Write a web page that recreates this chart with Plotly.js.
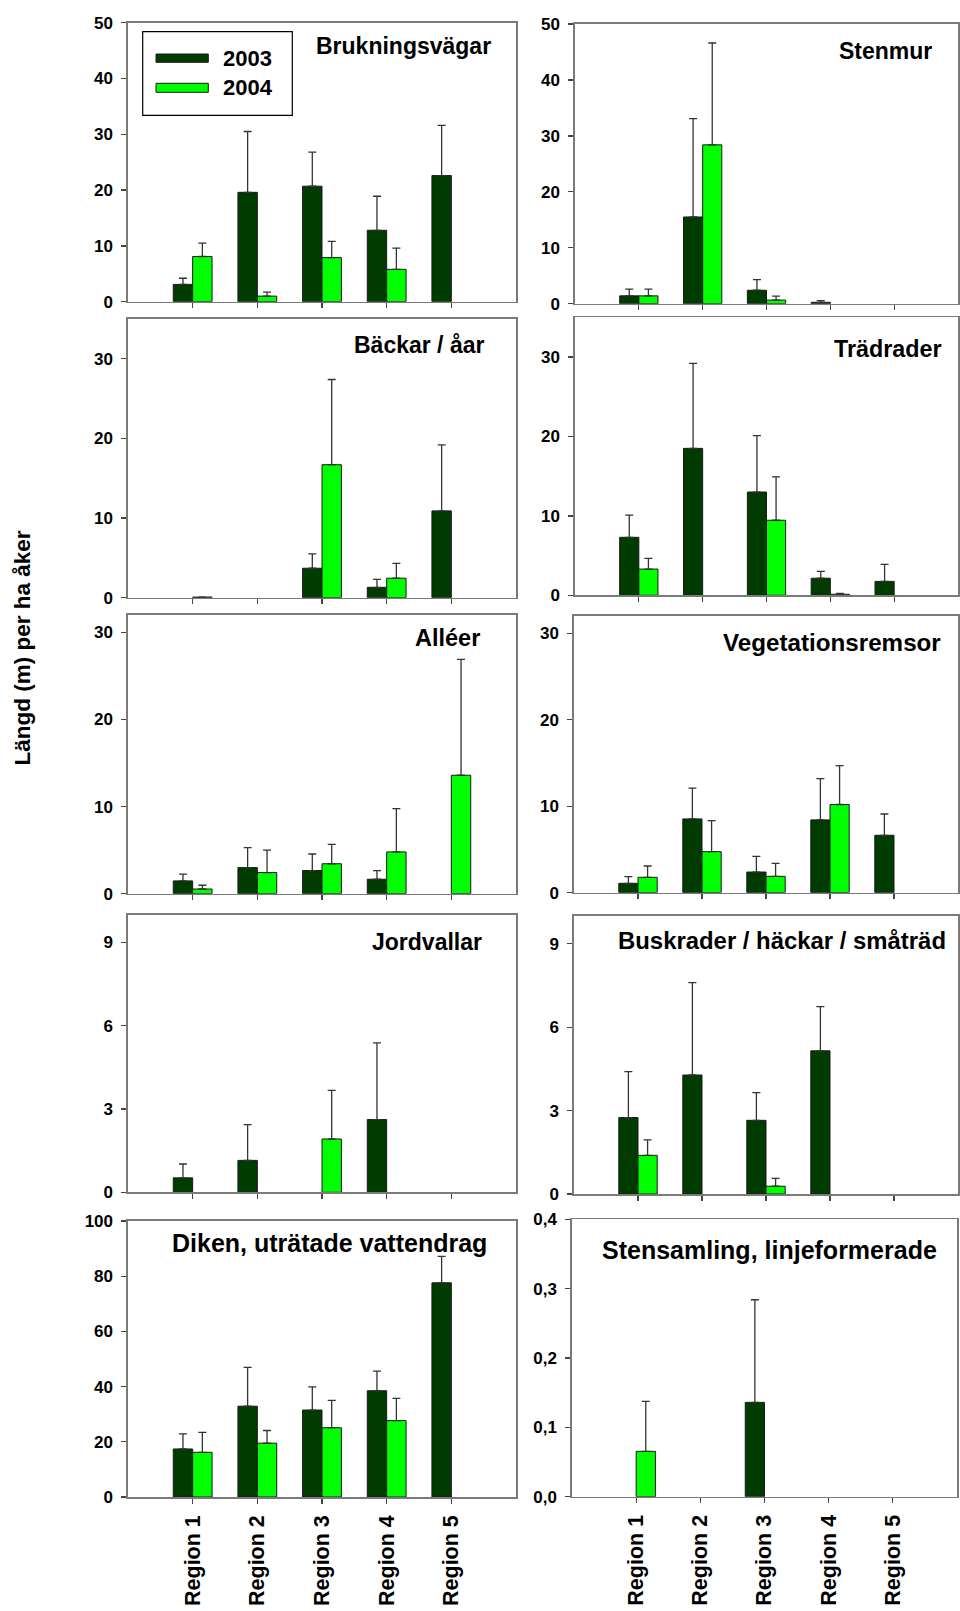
<!DOCTYPE html>
<html><head><meta charset="utf-8">
<script src="https://cdn.plot.ly/plotly-3.0.1.min.js"></script>
<style>html,body{margin:0;padding:0;background:#fff}#chart{width:960px;height:1611px}</style>
</head><body><div id="chart"></div>
<script>
// ---------- DATA ----------
const regions = ['Region 1', 'Region 2', 'Region 3', 'Region 4', 'Region 5'];
const regionPos = [1, 2, 3, 4, 5];
const years = ['2003', '2004'];

const bruk2003 = [3.1, 19.6, 20.7, 12.8, 22.6];
const bruk2003err = [1.1, 10.9, 6.1, 6.1, 9.0];
const bruk2004 = [8.1, 1.0, 7.9, 5.8, null];
const bruk2004err = [2.4, 0.7, 2.9, 3.8, null];

const sten2003 = [1.4, 15.5, 2.4, 0.25, null];
const sten2003err = [1.2, 17.6, 1.9, 0.3, null];
const sten2004 = [1.4, 28.4, 0.65, null, null];
const sten2004err = [1.2, 18.2, 0.7, null, null];

const back2003 = [null, null, 3.7, 1.3, 10.9];
const back2003err = [null, null, 1.8, 1.0, 8.3];
const back2004 = [0.08, null, 16.7, 2.45, null];
const back2004err = [0, null, 10.7, 1.85, null];

const trad2003 = [7.3, 18.5, 13.0, 2.15, 1.75];
const trad2003err = [2.8, 10.7, 7.1, 0.85, 2.15];
const trad2004 = [3.3, null, 9.45, 0.13, null];
const trad2004err = [1.35, null, 5.45, 0.1, null];

const alle2003 = [1.47, 3.0, 2.66, 1.66, null];
const alle2003err = [0.77, 2.3, 1.9, 1.0, null];
const alle2004 = [0.54, 2.43, 3.44, 4.8, 13.6];
const alle2004err = [0.43, 2.57, 2.23, 4.97, 13.3];

const veg2003 = [1.08, 8.53, 2.39, 8.42, 6.64];
const veg2003err = [0.77, 3.57, 1.81, 4.78, 2.46];
const veg2004 = [1.78, 4.75, 1.89, 10.2, null];
const veg2004err = [1.31, 3.59, 1.51, 4.5, null];

const jord2003 = [0.52, 1.15, null, 2.62, null];
const jord2003err = [0.5, 1.29, null, 2.76, null];
const jord2004 = [null, null, 1.92, null, null];
const jord2004err = [null, null, 1.75, null, null];

const busk2003 = [2.75, 4.28, 2.65, 5.15, null];
const busk2003err = [1.65, 3.32, 1.0, 1.59, null];
const busk2004 = [1.39, null, 0.28, null, null];
const busk2004err = [0.56, null, 0.28, null, null];

const dike2003 = [17.4, 32.9, 31.5, 38.5, 77.6];
const dike2003err = [5.5, 14.1, 8.4, 7.1, 9.6];
const dike2004 = [16.2, 19.5, 25.1, 27.7, null];
const dike2004err = [7.2, 4.6, 9.9, 8.0, null];

const stsa2003 = [null, null, 0.136, null, null];
const stsa2003err = [null, null, 0.148, null, null];
const stsa2004 = [0.0654, null, null, null, null];
const stsa2004err = [0.072, null, null, null, null];

const ticks50 = [0, 10, 20, 30, 40, 50];
const ticks30 = [0, 10, 20, 30];
const ticks9 = [0, 3, 6, 9];
const ticks100 = [0, 20, 40, 60, 80, 100];
const ticks04 = [0, 0.1, 0.2, 0.3, 0.4];
const ticks04text = ['0,0', '0,1', '0,2', '0,3', '0,4'];

const yTitle = 'Längd (m) per ha åker';

// ---------- LAYOUT / DRAW ----------
const W = 960, H = 1611;
const FONT = 'Liberation Sans, Arial, Helvetica, sans-serif';
const DARK = '#003c00', LIGHT = '#00ff00';

const panels = [
  {t:'Brukningsvägar', a:bruk2003, ae:bruk2003err, b:bruk2004, be:bruk2004err, x0:128, x1:516, top:22.7, bot:301.7, ymax:50, tv:ticks50, tr:492.7, ty:46, fs:23},
  {t:'Bäckar / åar', a:back2003, ae:back2003err, b:back2004, be:back2004err, x0:128, x1:516, top:319, bot:597.7, ymax:35, tv:ticks30, tr:485.7, ty:345, fs:23},
  {t:'Alléer', a:alle2003, ae:alle2003err, b:alle2004, be:alle2004err, x0:128, x1:516, top:615, bot:893.7, ymax:32, tv:ticks30, tr:482.3, ty:638, fs:23.5},
  {t:'Jordvallar', a:jord2003, ae:jord2003err, b:jord2004, be:jord2004err, x0:128, x1:516, top:914.7, bot:1192.3, ymax:10, tv:ticks9, tr:484.3, ty:942, fs:23},
  {t:'Diken, uträtade vattendrag', a:dike2003, ae:dike2003err, b:dike2004, be:dike2004err, x0:128, x1:516, top:1221, bot:1497, ymax:100, tv:ticks100, tr:488.7, ty:1243, fs:25, bottom:true},
  {t:'Stenmur', a:sten2003, ae:sten2003err, b:sten2004, be:sten2004err, x0:575, x1:958, top:24, bot:303.7, ymax:50, tv:ticks50, tr:934.3, ty:51, fs:23},
  {t:'Trädrader', a:trad2003, ae:trad2003err, b:trad2004, be:trad2004err, x0:575, x1:958, top:317.3, bot:595.3, ymax:35, tv:ticks30, tr:943.3, ty:349.5, fs:23.3},
  {t:'Vegetationsremsor', a:veg2003, ae:veg2003err, b:veg2004, be:veg2004err, x0:574, x1:958, top:616, bot:892.7, ymax:32, tv:ticks30, tr:943.3, ty:642.5, fs:24.2},
  {t:'Buskrader / häckar / småträd', a:busk2003, ae:busk2003err, b:busk2004, be:busk2004err, x0:574, x1:958, top:916, bot:1194, ymax:10, tv:ticks9, tr:948.3, ty:940, fs:23.9},
  {t:'Stensamling, linjeformerade', a:stsa2003, ae:stsa2003err, b:stsa2004, be:stsa2004err, x0:572, x1:957, top:1219.3, bot:1496.7, ymax:0.4, tv:ticks04, tt:ticks04text, tr:939.3, ty:1249.5, fs:25, bottom:true}
];

const traces = [];
const layout = {
  width: W, height: H,
  margin: {l:0, r:0, t:0, b:0},
  paper_bgcolor: '#fff', plot_bgcolor: '#fff',
  barmode: 'group', bargap: 0.4, bargroupgap: 0,
  showlegend: false,
  font: {family: FONT, color: '#000'},
  annotations: [], shapes: []
};

function errObj(arr) {
  return {type:'data', symmetric:false, array: arr, arrayminus: arr.map(() => 0),
          color:'#333', thickness:1.3, width:4, visible:true};
}

panels.forEach((p, i) => {
  const s = i === 0 ? '' : String(i + 1);
  traces.push({type:'bar', name:years[0], x:regionPos, y:p.a, xaxis:'x'+s, yaxis:'y'+s,
    marker:{color:DARK, line:{color:'#1a1a1a', width:1}}, error_y:errObj(p.ae), hoverinfo:'y'});
  traces.push({type:'bar', name:years[1], x:regionPos, y:p.b, xaxis:'x'+s, yaxis:'y'+s,
    marker:{color:LIGHT, line:{color:'#1a1a1a', width:1}}, error_y:errObj(p.be), hoverinfo:'y'});
  layout['xaxis'+s] = {
    domain:[p.x0/W, p.x1/W], range:[0, 6], anchor:'y'+s,
    tickmode:'array', tickvals:regionPos, ticktext:regions,
    showticklabels: !!p.bottom, tickangle:-90,
    tickfont:{family:FONT, size:21.5, color:'#000', weight:'bold'},
    ticks:'outside', ticklen:5, tickcolor:'#444', tickwidth:1.3,
    showline:true, mirror:true, linecolor:'#7a7a7a', linewidth:1.6,
    showgrid:false, zeroline:false, fixedrange:true, ticklabelstandoff:3
  };
  layout['yaxis'+s] = {
    domain:[1 - p.bot/H, 1 - p.top/H], range:[0, p.ymax], anchor:'x'+s,
    tickmode:'array', tickvals:p.tv, ticktext:p.tt || p.tv.map(String),
    tickfont:{family:FONT, size:17, color:'#000', weight:'bold'},
    ticks:'outside', ticklen:5, tickcolor:'#444', tickwidth:1.3,
    showline:true, mirror:true, linecolor:'#7a7a7a', linewidth:1.6,
    showgrid:false, zeroline:false, fixedrange:true, ticklabelstandoff:5
  };
  layout.annotations.push({xref:'paper', yref:'paper', x:p.tr/W, y:1 - p.ty/H,
    xanchor:'right', yanchor:'middle', showarrow:false, text:p.t,
    font:{family:FONT, size:p.fs, color:'#000', weight:'bold'}});
});

// legend (inside first panel)
layout.shapes.push({type:'rect', xref:'paper', yref:'paper', x0:142.7/W, x1:292.3/W, y0:1-31.7/H, y1:1-115.3/H,
  line:{color:'#000', width:1.2}, fillcolor:'#fff'});
layout.shapes.push({type:'rect', xref:'paper', yref:'paper', x0:156/W, x1:208.3/W, y0:1-54/H, y1:1-62.3/H,
  line:{color:'#1a1a1a', width:1}, fillcolor:DARK});
layout.shapes.push({type:'rect', xref:'paper', yref:'paper', x0:156/W, x1:208.3/W, y0:1-83.3/H, y1:1-92.3/H,
  line:{color:'#1a1a1a', width:1}, fillcolor:LIGHT});
layout.annotations.push({xref:'paper', yref:'paper', x:221/W, y:1-58.3/H, xanchor:'left', yanchor:'middle',
  showarrow:false, text:years[0], font:{family:FONT, size:22, color:'#000', weight:'bold'}});
layout.annotations.push({xref:'paper', yref:'paper', x:221/W, y:1-87.8/H, xanchor:'left', yanchor:'middle',
  showarrow:false, text:years[1], font:{family:FONT, size:22, color:'#000', weight:'bold'}});

// common y-axis title
layout.annotations.push({xref:'paper', yref:'paper', x:22/W, y:1-648.5/H, xanchor:'center', yanchor:'middle',
  showarrow:false, textangle:-90, text:yTitle, font:{family:FONT, size:22.5, color:'#000', weight:'bold'}});

Plotly.newPlot('chart', traces, layout, {staticPlot:true, displayModeBar:false});
</script>
</body></html>
